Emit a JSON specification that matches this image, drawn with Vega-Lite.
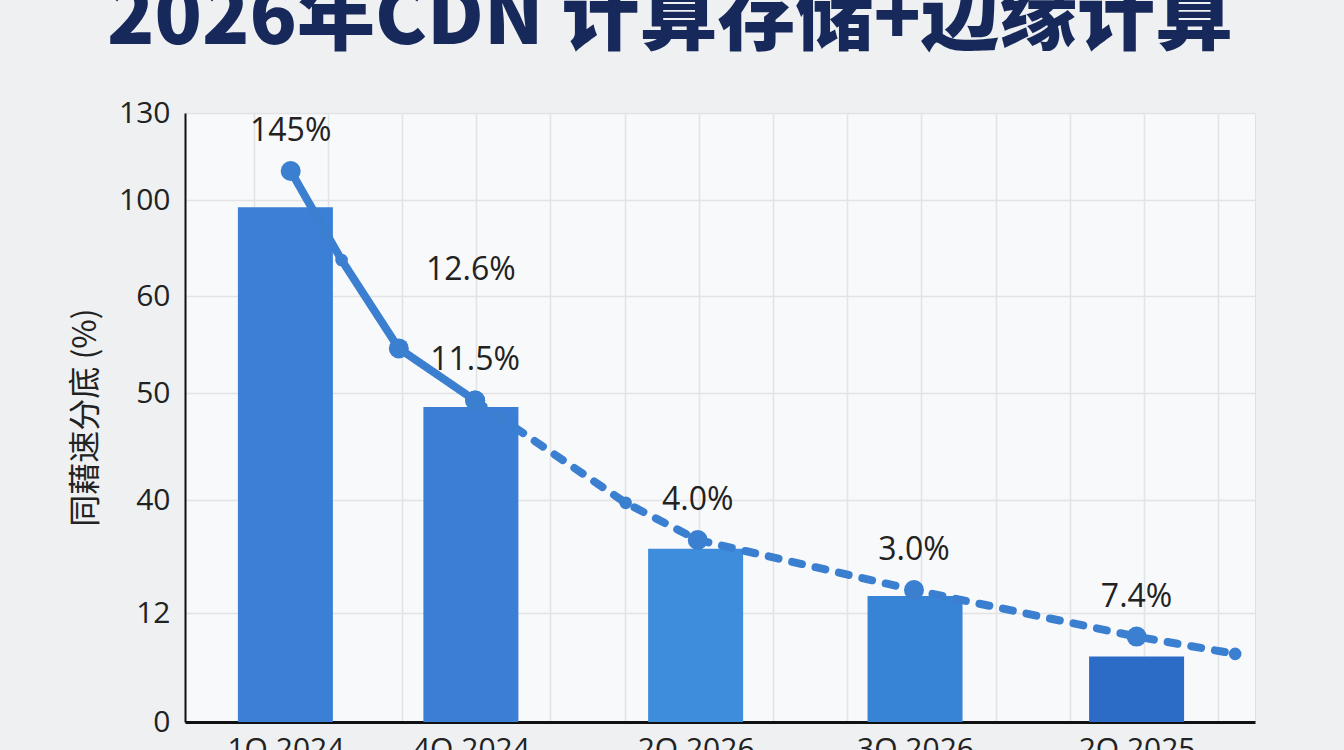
{
  "$schema": "https://vega.github.io/schema/vega-lite/v6.json",
  "width": 1070,
  "height": 609,
  "autosize": {"type": "none"},
  "padding": {"left": 185, "top": 113, "right": 89, "bottom": 28},
  "background": "#eef0f2",
  "title": {
    "text": "2026年CDN 计算存储+边缘计算",
    "font": "Noto Sans CJK SC",
    "fontSize": 78,
    "fontWeight": 900,
    "color": "#17285a",
    "anchor": "middle",
    "frame": "group",
    "baseline": "bottom",
    "offset": -40,
    "dx": -50
  },
  "datasets": {
    "bars": [
      {"period": "1Q 2024", "t": 9.0, "value": 97},
      {"period": "4Q 2024", "t": 26.5, "value": 48.7},
      {"period": "2Q 2026", "t": 47.7, "value": 27.9},
      {"period": "3Q 2026", "t": 68.4, "value": 16.2},
      {"period": "2Q 2025", "t": 89.3, "value": 7.2}
    ],
    "line": [
      {"t": 9.5, "v": 110, "seg": "实际", "marker": "大"},
      {"t": 14.3, "v": 75, "seg": "实际", "marker": "小"},
      {"t": 19.7, "v": 54.6, "seg": "实际", "marker": "大"},
      {"t": 26.9, "v": 49.3, "seg": "实际", "marker": "大"},
      {"t": 26.9, "v": 49.3, "seg": "预测", "marker": "大"},
      {"t": 41.1, "v": 39.3, "seg": "预测", "marker": "小"},
      {"t": 47.9, "v": 30.1, "seg": "预测", "marker": "大"},
      {"t": 68.3, "v": 17.7, "seg": "预测", "marker": "大"},
      {"t": 89.3, "v": 9.4, "seg": "预测", "marker": "大"},
      {"t": 98.6, "v": 7.5, "seg": "预测", "marker": "小"}
    ],
    "labels": [
      {"t": 9.5, "v": 110, "text": "145%"},
      {"t": 26.5, "v": 58.6, "text": "12.6%"},
      {"t": 26.9, "v": 49.3, "text": "11.5%"},
      {"t": 47.9, "v": 30.1, "text": "4.0%"},
      {"t": 68.3, "v": 17.7, "text": "3.0%"},
      {"t": 89.3, "v": 9.4, "text": "7.4%"}
    ]
  },
  "layer": [
    {
      "data": {"name": "bars"},
      "mark": {"type": "bar", "size": 95},
      "encoding": {
        "x": {
          "field": "t",
          "type": "quantitative",
          "scale": {"domain": [0, 100], "nice": false},
          "axis": {
            "values": [9.0, 26.5, 47.7, 68.4, 89.3],
            "labelExpr": "datum.value == 9 ? '1Q 2024' : datum.value == 26.5 ? '4Q 2024' : datum.value == 47.7 ? '2Q 2026' : datum.value == 68.4 ? '3Q 2026' : '2Q 2025'",
            "grid": false,
            "ticks": false,
            "domainColor": "#111111",
            "domainWidth": 3,
            "labelFont": "Open Sans",
            "labelFontSize": 30,
            "labelColor": "#222222",
            "labelPadding": 12,
            "title": null
          }
        },
        "y": {
          "field": "value",
          "type": "quantitative",
          "scale": {
            "domain": [0, 12, 40, 50, 60, 100, 130],
            "range": [609, 500, 387, 280, 183, 87, 0],
            "nice": false,
            "zero": false
          },
          "axis": {
            "values": [0, 12, 40, 50, 60, 100, 130],
            "title": "同藉速分底 (%)",
            "titleFont": "Noto Sans CJK SC",
            "titleFontSize": 32,
            "titleFontWeight": "normal",
            "titleColor": "#222222",
            "titleAngle": -90,
            "titleX": -100,
            "titleY": 304,
            "titleAlign": "center",
            "titleBaseline": "middle",
            "ticks": false,
            "domainColor": "#111111",
            "domainWidth": 2,
            "labelFont": "Open Sans",
            "labelFontSize": 30,
            "labelColor": "#222222",
            "labelPadding": 15,
            "grid": true,
            "gridColor": "#e2e3e5",
            "gridWidth": 1.5
          }
        },
        "color": {
          "field": "period",
          "type": "nominal",
          "sort": null,
          "scale": {"range": ["#3b7fd6", "#3a7ed5", "#3d8ddc", "#3784d7", "#2d6cc6"]},
          "legend": null
        }
      }
    },
    {
      "data": {"name": "line"},
      "mark": {"type": "line", "strokeWidth": 8, "strokeCap": "round", "strokeJoin": "round", "color": "#3b7fd0"},
      "encoding": {
        "x": {
          "field": "t",
          "type": "quantitative",
          "axis": {
            "orient": "bottom",
            "values": [6, 13, 20, 27, 34, 41, 48, 55, 62, 69, 76, 83, 90, 97],
            "grid": true,
            "gridColor": "#e2e3e5",
            "gridWidth": 1.5,
            "labels": false,
            "ticks": false,
            "domain": false,
            "title": null
          }
        },
        "y": {"field": "v", "type": "quantitative", "title": "同藉速分底 (%)"},
        "detail": {"field": "seg"},
        "strokeDash": {
          "field": "seg",
          "type": "nominal",
          "scale": {"domain": ["实际", "预测"], "range": [[1, 0], [10, 14]]},
          "legend": null
        }
      }
    },
    {
      "data": {"name": "line"},
      "mark": {"type": "point", "filled": true, "opacity": 1, "color": "#3b7fd0"},
      "encoding": {
        "x": {"field": "t", "type": "quantitative", "axis": null},
        "y": {"field": "v", "type": "quantitative", "title": "同藉速分底 (%)"},
        "size": {
          "field": "marker",
          "type": "nominal",
          "scale": {"domain": ["大", "小"], "range": [400, 160]},
          "legend": null
        }
      }
    },
    {
      "data": {"name": "labels"},
      "mark": {"type": "text", "font": "Open Sans", "fontSize": 32, "color": "#222222", "dy": -40, "baseline": "middle"},
      "encoding": {
        "x": {"field": "t", "type": "quantitative", "axis": null},
        "y": {"field": "v", "type": "quantitative", "title": "同藉速分底 (%)"},
        "text": {"field": "text"}
      }
    }
  ],
  "resolve": {"axis": {"x": "independent"}},
  "config": {
    "view": {"fill": "#f8f9fa", "stroke": "#e0e1e3"}
  }
}
